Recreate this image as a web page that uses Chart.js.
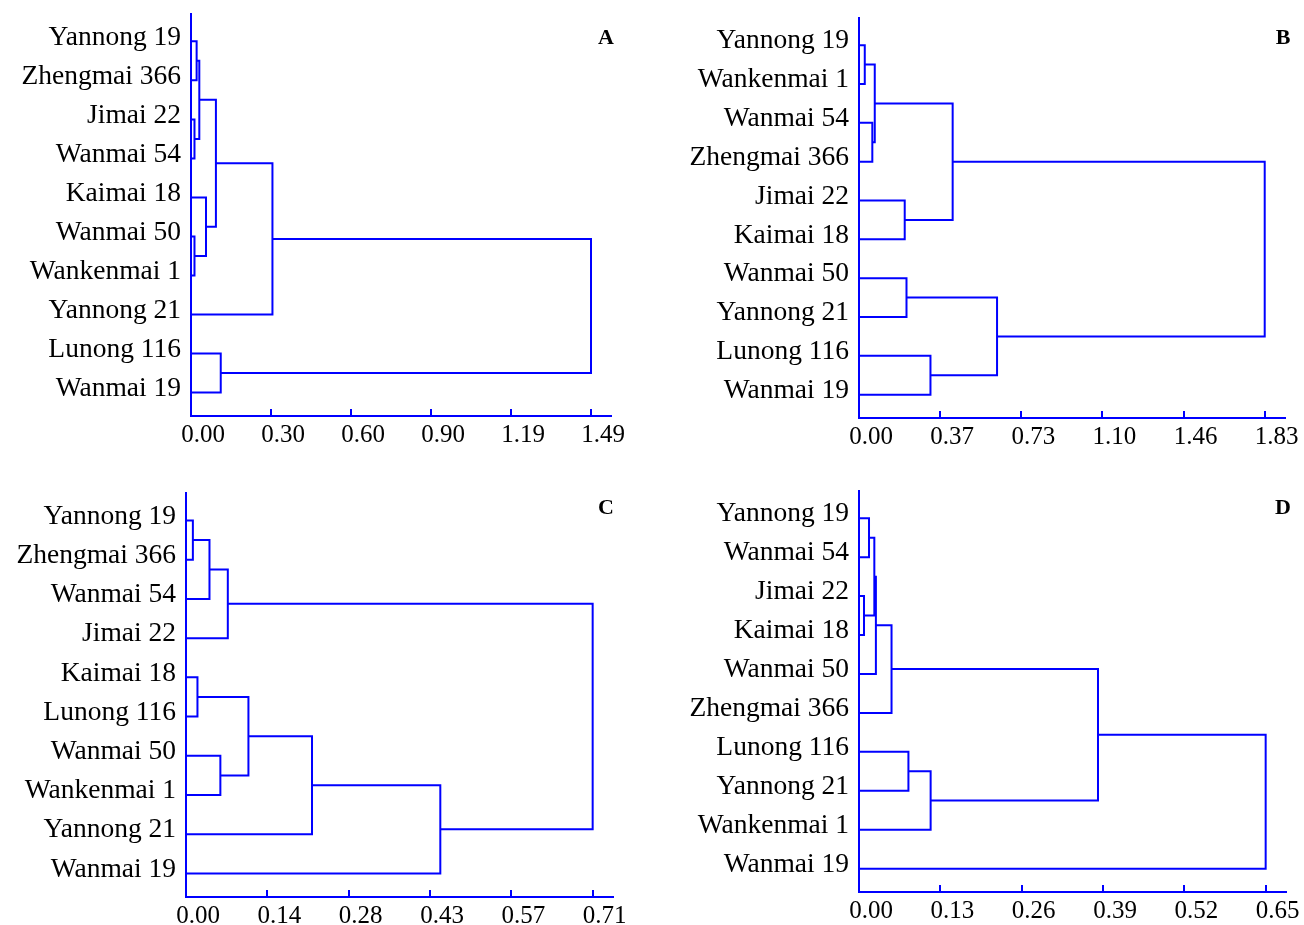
<!DOCTYPE html>
<html>
<head>
<meta charset="utf-8">
<script src="https://cdn.jsdelivr.net/npm/chart.js@4"></script>
<style>
  body { margin: 0; background: #fff; }
  #wrap { position: relative; width: 1304px; height: 925px; overflow: hidden; }
  canvas { position: absolute; }
  .tag { position: absolute; font: bold 22px "Liberation Serif", serif; line-height: 1; color: #000; transform: translate(-50%, -50%); }
</style>
</head>
<body>
<div id="wrap">
  <canvas id="chartA" width="652" height="462" style="left:0;top:0"></canvas>
  <canvas id="chartB" width="652" height="462" style="left:652px;top:0"></canvas>
  <canvas id="chartC" width="652" height="463" style="left:0;top:462px"></canvas>
  <canvas id="chartD" width="652" height="463" style="left:652px;top:462px"></canvas>
  <div class="tag" style="left:606px;top:37px">A</div>
  <div class="tag" style="left:1283px;top:37px">B</div>
  <div class="tag" style="left:606px;top:507px">C</div>
  <div class="tag" style="left:1283px;top:507px">D</div>
</div>
<script>
// leaf order top to bottom; links use leaf index 0-9, then 10+ for merged clusters
const leavesA = ['Yannong 19', 'Zhengmai 366', 'Jimai 22', 'Wanmai 54', 'Kaimai 18', 'Wanmai 50', 'Wankenmai 1', 'Yannong 21', 'Lunong 116', 'Wanmai 19'];
const linksA = [[0, 1], [2, 3], [10, 11], [5, 6], [4, 13], [12, 14], [15, 7], [8, 9], [16, 17]];
const heightsA = [0.021, 0.013, 0.031, 0.013, 0.056, 0.093, 0.304, 0.111, 1.493];
const ticksA = ['0.00', '0.30', '0.60', '0.90', '1.19', '1.49'];

const leavesB = ['Yannong 19', 'Wankenmai 1', 'Wanmai 54', 'Zhengmai 366', 'Jimai 22', 'Kaimai 18', 'Wanmai 50', 'Yannong 21', 'Lunong 116', 'Wanmai 19'];
const linksB = [[0, 1], [2, 3], [10, 11], [4, 5], [12, 13], [6, 7], [8, 9], [15, 16], [14, 17]];
const heightsB = [0.026, 0.060, 0.071, 0.206, 0.422, 0.214, 0.322, 0.622, 1.828];
const ticksB = ['0.00', '0.37', '0.73', '1.10', '1.46', '1.83'];

const leavesC = ['Yannong 19', 'Zhengmai 366', 'Wanmai 54', 'Jimai 22', 'Kaimai 18', 'Lunong 116', 'Wanmai 50', 'Wankenmai 1', 'Yannong 21', 'Wanmai 19'];
const linksC = [[0, 1], [10, 2], [11, 3], [4, 5], [6, 7], [13, 14], [15, 8], [16, 9], [12, 17]];
const heightsC = [0.012, 0.041, 0.073, 0.020, 0.060, 0.109, 0.220, 0.444, 0.710];
const ticksC = ['0.00', '0.14', '0.28', '0.43', '0.57', '0.71'];

const leavesD = ['Yannong 19', 'Wanmai 54', 'Jimai 22', 'Kaimai 18', 'Wanmai 50', 'Zhengmai 366', 'Lunong 116', 'Yannong 21', 'Wankenmai 1', 'Wanmai 19'];
const linksD = [[0, 1], [2, 3], [10, 11], [12, 4], [13, 5], [6, 7], [15, 8], [14, 16], [17, 9]];
const heightsD = [0.016, 0.008, 0.0245, 0.027, 0.052, 0.079, 0.1145, 0.382, 0.650];
const ticksD = ['0.00', '0.13', '0.26', '0.39', '0.52', '0.65'];

const blue = '#0000ff';

// each merge becomes one U-shaped line
function dendroSets(leaves, links, heights) {
    const pos = leaves.map((_, i) => ({ x: 0, y: i }));
    return links.map(([a, b], k) => {
        const p = pos[a], q = pos[b], h = heights[k];
        pos.push({ x: h, y: (p.y + q.y) / 2 });
        return {
            data: [{ x: p.x, y: p.y }, { x: h, y: p.y }, { x: h, y: q.y }, { x: q.x, y: q.y }],
            showLine: true,
            borderColor: blue,
            borderWidth: 2,
            pointRadius: 0,
            tension: 0,
            clip: false
        };
    });
}

// small tick marks pointing up from the x axis
const upTicks = {
    id: 'upTicks',
    afterDraw(chart) {
        const sx = chart.scales.x, ctx = chart.ctx, bottom = chart.chartArea.bottom;
        ctx.save();
        ctx.strokeStyle = blue;
        ctx.lineWidth = 2;
        sx.ticks.forEach(t => {
            const px = Math.round(sx.getPixelForValue(t.value));
            ctx.beginPath();
            ctx.moveTo(px, bottom);
            ctx.lineTo(px, bottom - 7);
            ctx.stroke();
        });
        ctx.restore();
    }
};

function makeChart(id, leaves, links, heights, tickLabels, box) {
    const top = heights[heights.length - 1];
    new Chart(document.getElementById(id), {
        type: 'scatter',
        data: { datasets: dendroSets(leaves, links, heights) },
        options: {
            responsive: false,
            animation: false,
            devicePixelRatio: 1,
            layout: { padding: { left: 0, right: box.right, top: box.top, bottom: 0 } },
            plugins: { legend: { display: false }, tooltip: { enabled: false } },
            scales: {
                x: {
                    type: 'linear',
                    min: 0,
                    max: top * 1.05,
                    afterBuildTicks: s => { s.ticks = tickLabels.map((_, i) => ({ value: top * i / 5 })); },
                    afterFit: s => { s.height = box.bottom; s.paddingLeft = 0; s.paddingRight = 0; },
                    ticks: {
                        autoSkip: false,
                        maxRotation: 0,
                        padding: 4,
                        labelOffset: 12,
                        color: '#000',
                        font: { family: 'Liberation Serif', size: 25 },
                        callback: (v, i) => tickLabels[i]
                    },
                    grid: { drawOnChartArea: false, drawTicks: false },
                    border: { color: blue, width: 2 }
                },
                y: {
                    type: 'linear',
                    reverse: true,
                    min: -0.7,
                    max: 9.6,
                    afterBuildTicks: s => { s.ticks = leaves.map((_, i) => ({ value: i })); },
                    afterFit: s => { s.width = box.left; s.paddingTop = 0; s.paddingBottom = 0; },
                    ticks: {
                        autoSkip: false,
                        padding: 10,
                        labelOffset: -4,
                        color: '#000',
                        font: { family: 'Liberation Serif', size: 27.5 },
                        callback: (v, i) => leaves[i]
                    },
                    grid: { drawOnChartArea: false, drawTicks: false },
                    border: { color: blue, width: 2 }
                }
            }
        },
        plugins: [upTicks]
    });
}

makeChart('chartA', leavesA, linksA, heightsA, ticksA, { left: 191, right: 41, top: 14, bottom: 46 });
makeChart('chartB', leavesB, linksB, heightsB, ticksB, { left: 207, right: 19, top: 18, bottom: 44 });
makeChart('chartC', leavesC, linksC, heightsC, ticksC, { left: 186, right: 39, top: 31, bottom: 28 });
makeChart('chartD', leavesD, linksD, heightsD, ticksD, { left: 207, right: 18, top: 29, bottom: 33 });
</script>
</body>
</html>
